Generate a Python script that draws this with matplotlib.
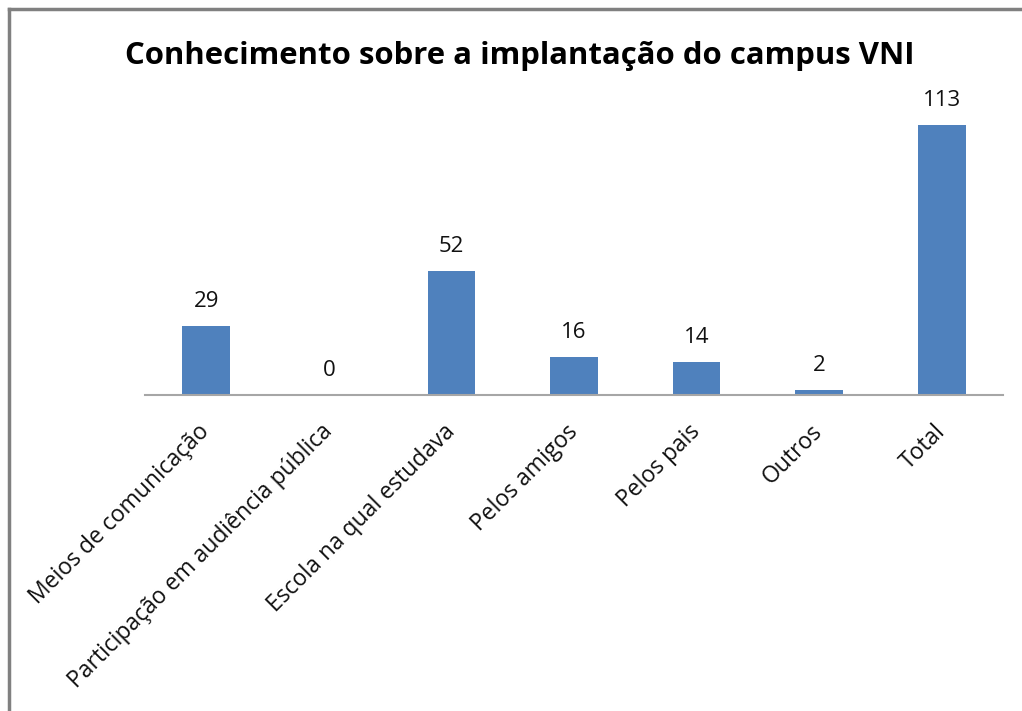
import matplotlib.pyplot as plt
from matplotlib.lines import Line2D

# dados do gráfico
categorias = ['Meios de comunicação', 'Participação em audiência pública',
              'Escola na qual estudava', 'Pelos amigos', 'Pelos pais',
              'Outros', 'Total']
valores = [29, 0, 52, 16, 14, 2, 113]

plt.rcParams['font.family'] = ['Open Sans', 'DejaVu Sans']

fig = plt.figure(figsize=(10.22, 7.11), dpi=100)
ax = fig.add_axes([145 / 1022, 1 - 395 / 711, 858 / 1022, 287 / 711])

x = range(len(categorias))
bars = ax.bar(x, valores, width=0.39, color='#4F81BD')

# rótulos de dados
for xi, v in zip(x, valores):
    ax.annotate(str(v), (xi, v), xytext=(0, 10), textcoords='offset points',
                ha='center', va='bottom', fontsize=16, color='#111111')

ax.set_xlim(-0.5, len(categorias) - 0.5)
ax.set_ylim(0, 120)
ax.set_xticks(list(x))
ax.set_xticklabels(categorias, rotation=45, ha='right', va='center',
                   rotation_mode='anchor', fontsize=16.5, color='#111111')
ax.tick_params(axis='x', length=0, pad=24)
ax.set_yticks([])
for s in ['top', 'right', 'left']:
    ax.spines[s].set_visible(False)
ax.spines['bottom'].set_color('#A6A6A6')
ax.spines['bottom'].set_linewidth(1.5)

fig.text(520 / 1022, 1 - 56 / 711, 'Conhecimento sobre a implantação do campus VNI',
         ha='center', va='center', fontsize=22.4, fontweight='bold')

# moldura do gráfico
fig.add_artist(Line2D([9 / 1022, 9 / 1022], [0, 1 - 9 / 711], color='#808080', lw=2.5))
fig.add_artist(Line2D([9 / 1022, 1], [1 - 9 / 711, 1 - 9 / 711], color='#808080', lw=2.5))

fig.savefig('out.png', dpi=100)
